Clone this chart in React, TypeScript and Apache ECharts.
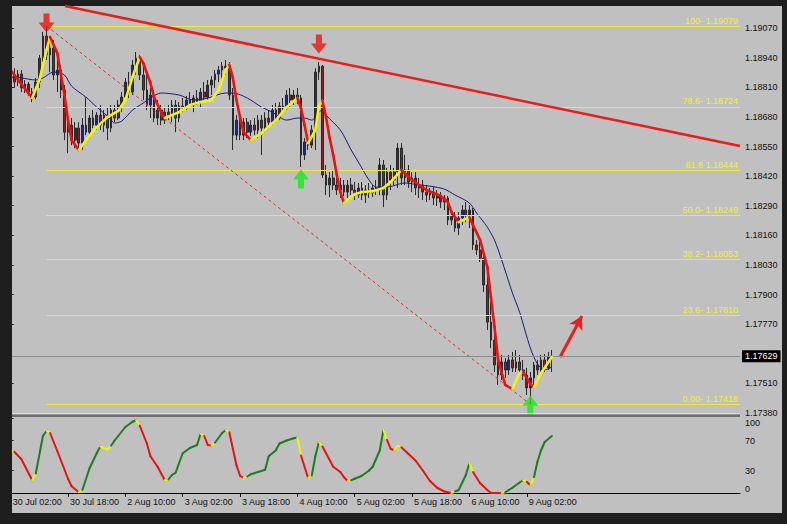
import React, { useEffect, useRef } from "react";
import * as echarts from "echarts";

// [open, high, low, close] for each H1 bar, 30 Jul 02:00 .. 9 Aug 09:00
const ohlc: number[][] = [
  [1.18908, 1.1893, 1.18851, 1.18864], [1.18864, 1.18894, 1.18807, 1.18833], [1.18833, 1.18886, 1.18815, 1.18868],
  [1.18868, 1.18886, 1.18789, 1.18807], [1.18807, 1.18842, 1.18785, 1.18824], [1.18824, 1.18833, 1.18772, 1.18789],
  [1.18789, 1.18807, 1.18745, 1.18767], [1.18767, 1.18851, 1.18758, 1.18833], [1.18833, 1.18952, 1.18807, 1.18938],
  [1.18938, 1.19053, 1.18921, 1.19035], [1.19035, 1.19079, 1.1893, 1.18952], [1.18952, 1.19031, 1.18877, 1.18982],
  [1.18982, 1.19017, 1.18842, 1.18864], [1.18864, 1.1893, 1.18789, 1.18886], [1.18886, 1.18908, 1.18763, 1.18798],
  [1.18798, 1.1882, 1.18578, 1.18613], [1.18613, 1.18688, 1.18521, 1.18644], [1.18644, 1.18675, 1.18556, 1.18578],
  [1.18578, 1.18657, 1.18543, 1.18631], [1.18631, 1.18657, 1.18535, 1.18565], [1.18565, 1.18675, 1.18535, 1.18644],
  [1.18644, 1.18767, 1.186, 1.18613], [1.18613, 1.18688, 1.18587, 1.18675], [1.18675, 1.1871, 1.18631, 1.18644],
  [1.18644, 1.18701, 1.18622, 1.18688], [1.18688, 1.18732, 1.18622, 1.18644], [1.18644, 1.1871, 1.18613, 1.18688],
  [1.18688, 1.18719, 1.18578, 1.18631], [1.18631, 1.18732, 1.18613, 1.1871], [1.1871, 1.18732, 1.18657, 1.18675],
  [1.18675, 1.18754, 1.18666, 1.18732], [1.18732, 1.18789, 1.18701, 1.18767], [1.18767, 1.18851, 1.18754, 1.18833],
  [1.18833, 1.18877, 1.18763, 1.18789], [1.18789, 1.1893, 1.18776, 1.18908], [1.18908, 1.18965, 1.18864, 1.18938],
  [1.18938, 1.18952, 1.18842, 1.18864], [1.18864, 1.18921, 1.18754, 1.18798], [1.18798, 1.18886, 1.1871, 1.18732],
  [1.18732, 1.18807, 1.18675, 1.18776], [1.18776, 1.18798, 1.18657, 1.18675], [1.18675, 1.18754, 1.18644, 1.1871],
  [1.1871, 1.18732, 1.18644, 1.18666], [1.18666, 1.18719, 1.18649, 1.18701], [1.18701, 1.18732, 1.18666, 1.18688],
  [1.18688, 1.18754, 1.18657, 1.18732], [1.18732, 1.18754, 1.18613, 1.18675], [1.18675, 1.18745, 1.18657, 1.18728],
  [1.18728, 1.18763, 1.18701, 1.18719], [1.18719, 1.18772, 1.1871, 1.18754], [1.18754, 1.18789, 1.18719, 1.18732],
  [1.18732, 1.18776, 1.18701, 1.18763], [1.18763, 1.18798, 1.18732, 1.18745], [1.18745, 1.18807, 1.18719, 1.18789],
  [1.18789, 1.18833, 1.18754, 1.18767], [1.18767, 1.18842, 1.18745, 1.1882], [1.1882, 1.18859, 1.18776, 1.18842],
  [1.18842, 1.18886, 1.18807, 1.18868], [1.18868, 1.18903, 1.18833, 1.18886], [1.18886, 1.18921, 1.18842, 1.18903],
  [1.18903, 1.1893, 1.18864, 1.18894], [1.18894, 1.18921, 1.18754, 1.18776], [1.18776, 1.18807, 1.18535, 1.186],
  [1.186, 1.18688, 1.18578, 1.18666], [1.18666, 1.18688, 1.18578, 1.186], [1.186, 1.18675, 1.18578, 1.18657],
  [1.18657, 1.18675, 1.18587, 1.18613], [1.18613, 1.18666, 1.18596, 1.18644], [1.18644, 1.18675, 1.186, 1.18622],
  [1.18622, 1.18688, 1.18587, 1.18666], [1.18666, 1.18688, 1.18513, 1.18631], [1.18631, 1.18701, 1.18613, 1.18675],
  [1.18675, 1.1871, 1.18631, 1.18657], [1.18657, 1.18732, 1.18644, 1.1871], [1.1871, 1.18741, 1.18657, 1.18675],
  [1.18675, 1.18745, 1.18666, 1.18728], [1.18728, 1.18763, 1.18701, 1.18719], [1.18719, 1.18798, 1.1871, 1.18776],
  [1.18776, 1.18807, 1.18719, 1.18754], [1.18754, 1.18798, 1.18732, 1.18776], [1.18776, 1.18807, 1.18736, 1.18763],
  [1.18763, 1.18776, 1.1846, 1.18513], [1.18513, 1.18587, 1.18491, 1.1857], [1.1857, 1.186, 1.18535, 1.18556],
  [1.18556, 1.18644, 1.18543, 1.18622], [1.18622, 1.18894, 1.18535, 1.18877], [1.18877, 1.18921, 1.18842, 1.18903],
  [1.18903, 1.18908, 1.18412, 1.18425], [1.18425, 1.18469, 1.18337, 1.18381], [1.18381, 1.18438, 1.18328, 1.18412],
  [1.18412, 1.18447, 1.18359, 1.18381], [1.18381, 1.18425, 1.18337, 1.18359], [1.18359, 1.18412, 1.18324, 1.18381],
  [1.18381, 1.18403, 1.18333, 1.1835], [1.1835, 1.18403, 1.18324, 1.18381], [1.18381, 1.18412, 1.18337, 1.18359],
  [1.18359, 1.18394, 1.18315, 1.18337], [1.18337, 1.1839, 1.18324, 1.18368], [1.18368, 1.18394, 1.18315, 1.18337],
  [1.18337, 1.18381, 1.18302, 1.18359], [1.18359, 1.1839, 1.18324, 1.18346], [1.18346, 1.18381, 1.18328, 1.18368],
  [1.18368, 1.18403, 1.18337, 1.18359], [1.18359, 1.18499, 1.18337, 1.18469], [1.18469, 1.18491, 1.18284, 1.18337],
  [1.18337, 1.18456, 1.18315, 1.18438], [1.18438, 1.18469, 1.18359, 1.18403], [1.18403, 1.18456, 1.18381, 1.18438],
  [1.18438, 1.18565, 1.18368, 1.18543], [1.18543, 1.18565, 1.18381, 1.18412], [1.18412, 1.18513, 1.18381, 1.18447],
  [1.18447, 1.18469, 1.18368, 1.18394], [1.18394, 1.18438, 1.1835, 1.18412], [1.18412, 1.18438, 1.18337, 1.18368],
  [1.18368, 1.18412, 1.18324, 1.18381], [1.18381, 1.18403, 1.18315, 1.1835], [1.1835, 1.18381, 1.18306, 1.18337],
  [1.18337, 1.18368, 1.18315, 1.1835], [1.1835, 1.18376, 1.18293, 1.18324], [1.18324, 1.18359, 1.18289, 1.18333],
  [1.18333, 1.1835, 1.1828, 1.18306], [1.18306, 1.18337, 1.18271, 1.18324], [1.18324, 1.18333, 1.18205, 1.18227],
  [1.18227, 1.18271, 1.18205, 1.18249], [1.18249, 1.18262, 1.18175, 1.18192], [1.18192, 1.18262, 1.18161, 1.18236],
  [1.18236, 1.18293, 1.18205, 1.18271], [1.18271, 1.18306, 1.18218, 1.18249], [1.18249, 1.18293, 1.18192, 1.18271],
  [1.18271, 1.1828, 1.18096, 1.18118], [1.18118, 1.18139, 1.18074, 1.18096], [1.18096, 1.18131, 1.18043, 1.1806],
  [1.1806, 1.18087, 1.17911, 1.17942], [1.17942, 1.1803, 1.17744, 1.17779], [1.17779, 1.17876, 1.17665, 1.177],
  [1.177, 1.17766, 1.1756, 1.17591], [1.17591, 1.17648, 1.17503, 1.17547], [1.17547, 1.17635, 1.17525, 1.17604],
  [1.17604, 1.17621, 1.17534, 1.17569], [1.17569, 1.17635, 1.17547, 1.17613], [1.17613, 1.17648, 1.1756, 1.17578],
  [1.17578, 1.17657, 1.1756, 1.17604], [1.17604, 1.17635, 1.17547, 1.17569], [1.17569, 1.17613, 1.17525, 1.17547],
  [1.17547, 1.17578, 1.17459, 1.1749], [1.1749, 1.1756, 1.17418, 1.17534], [1.17534, 1.17604, 1.17503, 1.17591],
  [1.17591, 1.17613, 1.17547, 1.17569], [1.17569, 1.17635, 1.17551, 1.17613], [1.17613, 1.17639, 1.1756, 1.17578],
  [1.17578, 1.17648, 1.17569, 1.17626], [1.17626, 1.17657, 1.1756, 1.17629],
];

// smoothed trend line (red falling / yellow rising): [bar index, price]
const hmaPts: number[][] = [
  [0, 1.18886], [3, 1.18824], [6, 1.18763], [8, 1.18842], [10, 1.18973], [11, 1.19031], [13, 1.1896], [15, 1.18776],
  [16, 1.18666], [17, 1.18578], [19, 1.18535], [21, 1.18578], [24, 1.18635], [27, 1.18679], [30, 1.18706], [32, 1.18754],
  [34, 1.18855], [36, 1.18943], [37, 1.18916], [39, 1.18829], [40, 1.18767], [42, 1.18701], [43, 1.18675], [47, 1.18701],
  [50, 1.18732], [53, 1.18745], [56, 1.18754], [58, 1.18798], [60, 1.18886], [61, 1.18908], [62, 1.18851], [63, 1.18754],
  [64, 1.18679], [65, 1.18613], [67, 1.18578], [70, 1.18609], [74, 1.18666], [77, 1.18723], [80, 1.18763], [81, 1.18719],
  [82, 1.18644], [83, 1.18565], [85, 1.18622], [86, 1.18728], [87, 1.1875], [88, 1.18679], [89, 1.18587], [90, 1.18513],
  [91, 1.18425], [92, 1.1835], [93, 1.18302], [94, 1.18315], [96, 1.18341], [98, 1.1835], [101, 1.18354], [104, 1.18368],
  [106, 1.18394], [108, 1.18429], [109, 1.18447], [112, 1.18403], [116, 1.18359], [120, 1.18333], [122, 1.18306],
  [123, 1.18262], [125, 1.18218], [128, 1.1824], [129, 1.18205], [131, 1.18139], [133, 1.18021], [134, 1.17889],
  [135, 1.17758], [136, 1.17613], [138, 1.17503], [140, 1.17485], [142, 1.17555], [143, 1.1756], [145, 1.17507],
  [146, 1.17494], [148, 1.17555], [151, 1.17626],
];

// thin moving average: [bar index, price]
const maPts: number[][] = [
  [0, 1.18855], [3, 1.18851], [7, 1.18842], [9, 1.18851], [12, 1.18877], [15, 1.18864], [17, 1.18815], [21, 1.18767],
  [24, 1.18723], [26, 1.18697], [28, 1.18666], [29, 1.18653], [31, 1.18662], [34, 1.1871], [37, 1.18741], [39, 1.18763],
  [42, 1.18785], [47, 1.18776], [51, 1.18754], [55, 1.18763], [60, 1.18785], [62, 1.18785], [66, 1.18763], [70, 1.18723],
  [73, 1.18701], [77, 1.18666], [80, 1.18675], [82, 1.18675], [84, 1.18666], [86, 1.18701], [87, 1.1871], [88, 1.18688],
  [92, 1.18622], [95, 1.18535], [97, 1.18482], [100, 1.18403], [102, 1.18372], [105, 1.18372], [110, 1.1839],
  [114, 1.18381], [117, 1.18376], [121, 1.18363], [124, 1.18337], [128, 1.18302], [130, 1.18258], [133, 1.18196],
  [135, 1.18139], [137, 1.18052], [140, 1.17907], [142, 1.17823], [145, 1.17665], [147, 1.17595], [149, 1.17569],
  [151, 1.17582],
];

// oscillator (0..100): [bar index, value]
const oscPts: number[][] = [
  [0, 57], [1, 55], [3, 45], [6, 17], [7, 26], [9, 76], [10, 83], [11, 80], [13, 56], [16, 19], [17, 9], [19, 1], [20, 4],
  [22, 33], [24, 53], [25, 62], [27, 58], [28, 63], [29, 70], [32, 88], [34, 95], [35, 97], [36, 90], [38, 66], [39, 49],
  [41, 35], [43, 17], [44, 18], [45, 24], [46, 27], [48, 53], [50, 60], [52, 64], [53, 79], [54, 76], [55, 64], [56, 63],
  [57, 67], [59, 80], [60, 84], [61, 81], [62, 59], [63, 37], [64, 23], [65, 20], [66, 22], [67, 25], [69, 28], [71, 31],
  [72, 49], [74, 57], [75, 66], [77, 70], [79, 73], [80, 74], [81, 50], [83, 20], [84, 23], [85, 49], [86, 68], [87, 62],
  [88, 53], [90, 35], [92, 28], [93, 21], [94, 16], [95, 17], [96, 19], [98, 23], [100, 30], [101, 35], [103, 57],
  [104, 84], [105, 71], [106, 59], [107, 57], [108, 63], [109, 61], [111, 52], [113, 43], [115, 30], [117, 16], [119, 7],
  [121, 2], [123, 0], [124, 2], [125, 4], [127, 24], [128, 40], [129, 28], [131, 13], [133, 4], [134, 0], [137, 0],
  [138, 1], [140, 7], [142, 14], [143, 17], [144, 15], [145, 10], [146, 21], [147, 42], [148, 57], [149, 68], [151, 76],
];

const priceTicks = [1.1738, 1.1751, 1.1777, 1.179, 1.1803, 1.1816, 1.1829, 1.1842, 1.1855, 1.1868, 1.1881, 1.1894, 1.1907];
const oscTicks = [0, 30, 70, 100];
const timeTickIdx = [0, 16, 32, 48, 64, 80, 96, 112, 128, 144];
const timeTickLabels = [
  "30 Jul 02:00", "30 Jul 18:00", "2 Aug 10:00", "3 Aug 02:00", "3 Aug 18:00",
  "4 Aug 10:00", "5 Aug 02:00", "5 Aug 18:00", "6 Aug 10:00", "9 Aug 02:00",
];

const fibPrices = [1.19079, 1.18724, 1.18444, 1.18249, 1.18053, 1.1781, 1.17418];
const fibLabels = ["100- 1.19079", "78.6- 1.18724", "61.8 1.18444", "50.0- 1.18249", "38.2- 1.18053", "23.6- 1.17810", "0.00- 1.17418"];
const fibStartIdx = 10;
const fibDiagonal = [[10, 1.19079], [145, 1.17418]];
const trendLine = [[15.15, 1.19167], [203.5, 1.18552]];
const projectionArrow = [[153.3, 1.17626], [159.4, 1.17806]];
const lastPrice = 1.17629;

// signal arrows: bar index, anchor price, direction
const signalArrows = [
  { i: 10, price: 1.19079, dir: "down" },
  { i: 86, price: 1.18921, dir: "down" },
  { i: 81, price: 1.1846, dir: "up" },
  { i: 145, price: 1.17418, dir: "up" },
];
const arrowOffsets = [-3, -18, 12, 1];

const SLOTS = 204;
const X_MIN = -0.5;
const X_MAX = SLOTS - 0.5;

const DOWN_ARROW = "path://M5,0L11,0L11,9L16,9L8,19L0,9L5,9Z";
const UP_ARROW = "path://M8,0L16,10L11,10L11,19L5,19L5,10L0,10Z";

const FONT = "Liberation Sans";

function segSeries(pts: number[][], colorAt: (k: number) => string, width: number, axisIdx: number, z: number) {
  return {
    type: "custom",
    xAxisIndex: axisIdx,
    yAxisIndex: axisIdx,
    z,
    silent: true,
    data: pts,
    encode: { x: 0, y: 1 },
    renderItem: (params: any, api: any) => {
      const k = params.dataIndex;
      if (k >= pts.length - 1) return { type: "group", children: [] };
      const a = api.coord(pts[k]);
      const b = api.coord(pts[k + 1]);
      return {
        type: "line",
        shape: { x1: a[0], y1: a[1], x2: b[0], y2: b[1] },
        style: { stroke: colorAt(k), lineWidth: width, lineCap: "round" },
      };
    },
  };
}

function buildOption() {
  const rising = (pts: number[][], k: number) => pts[k + 1][1] > pts[k][1];
  const hmaColor = (k: number) => (rising(hmaPts, k) ? "#f4f40a" : "#ee1111");
  const oscColor = (k: number) => {
    const r = rising(oscPts, k);
    if (k === 0 || r !== rising(oscPts, k - 1)) return "#f2f20c";
    return r ? "#1e7d1e" : "#e41414";
  };

  const markData: any[] = [];
  fibPrices.forEach((p, k) => {
    markData.push([
      {
        coord: [fibStartIdx, p],
        lineStyle: { color: "#ecec3a", width: 1, type: "solid" },
        label: {
          show: true, position: "insideEndTop", formatter: fibLabels[k], color: "#f0f038",
          fontSize: 9, fontFamily: FONT, distance: [2, 1],
        },
      },
      { coord: [X_MAX, p] },
    ]);
  });
  markData.push([
    { coord: trendLine[0], lineStyle: { color: "#ea1c1c", width: 2.5, type: "solid" } },
    { coord: trendLine[1] },
  ]);
  markData.push([
    { coord: fibDiagonal[0], lineStyle: { color: "#e02a2a", width: 1, type: [3, 3] } },
    { coord: fibDiagonal[1] },
  ]);
  markData.push([
    { coord: projectionArrow[0], symbol: "none", lineStyle: { color: "#ee1c1c", width: 3, type: "solid" } },
    { coord: projectionArrow[1], symbol: "arrow", symbolSize: [11, 13] },
  ]);
  markData.push([
    {
      coord: [X_MIN, lastPrice],
      lineStyle: { color: "#8c8c8c", width: 1, type: "solid" },
      label: {
        show: true, position: "end", formatter: lastPrice.toFixed(5), backgroundColor: "#000", color: "#fff",
        padding: [2, 3, 1, 3], fontSize: 9, fontFamily: FONT, distance: 2,
      },
    },
    { coord: [X_MAX, lastPrice] },
  ]);

  return {
    animation: false,
    backgroundColor: "#1e1e1e",
    textStyle: { fontFamily: FONT },
    graphic: [
      { type: "rect", z: -100, shape: { x: 12, y: 6, width: 770, height: 507 }, style: { fill: "#c0c0c0" } },
      { type: "rect", z: 50, shape: { x: 12, y: 413, width: 728, height: 1 }, style: { fill: "#dcdcdc" } },
      { type: "rect", z: 50, shape: { x: 12, y: 414.5, width: 728, height: 2.5 }, style: { fill: "#6e6e6e" } },
      { type: "rect", z: 100, shape: { x: 0, y: 0, width: 12, height: 524 }, style: { fill: "#1e1e1e" } },
    ],
    grid: [
      { left: 8.9, right: 47, top: 6, bottom: 111 },
      { left: 8.9, right: 47, top: 418, bottom: 31 },
    ],
    xAxis: [
      { type: "value", gridIndex: 0, min: X_MIN, max: X_MAX, show: false },
      {
        type: "value", gridIndex: 1, min: X_MIN, max: X_MAX,
        axisLine: { show: true, onZero: false, lineStyle: { color: "#000", width: 1 } },
        axisTick: { show: true, customValues: timeTickIdx, length: 4, lineStyle: { color: "#000" } },
        axisLabel: {
          customValues: timeTickIdx,
          formatter: (v: number) => timeTickLabels[timeTickIdx.indexOf(Math.round(v))] ?? "",
          align: "left", margin: 4, padding: [0, 0, 0, 2], fontSize: 9, color: "#111", fontFamily: FONT,
        },
        splitLine: { show: false },
      },
    ],
    yAxis: [
      {
        type: "value", gridIndex: 0, position: "right", min: 1.1738, max: 1.19167,
        axisLine: { show: true, lineStyle: { color: "#000", width: 1 } },
        axisTick: { show: true, customValues: priceTicks, length: 3, lineStyle: { color: "#000" } },
        axisLabel: {
          customValues: priceTicks, formatter: (v: number) => v.toFixed(5), margin: 5,
          fontSize: 9, color: "#111", fontFamily: FONT,
        },
        splitLine: { show: false },
      },
      {
        type: "value", gridIndex: 1, position: "right", min: 0, max: 100,
        axisLine: { show: true, lineStyle: { color: "#000", width: 1 } },
        axisTick: { show: true, customValues: oscTicks, length: 3, lineStyle: { color: "#000" } },
        axisLabel: {
          customValues: oscTicks, margin: 5, fontSize: 9, color: "#111", fontFamily: FONT,
          showMinLabel: true, showMaxLabel: true, hideOverlap: false,
          verticalAlignMinLabel: "bottom", verticalAlignMaxLabel: "top",
        },
        splitLine: { show: false },
      },
    ],
    series: [
      {
        type: "candlestick", xAxisIndex: 0, yAxisIndex: 0, z: 2,
        data: ohlc.map((d, i) => [i, d[0], d[3], d[2], d[1]]),
        encode: { x: 0, y: [1, 2, 3, 4] },
        barWidth: 2.2,
        itemStyle: {
          color: "#1e2b8e", color0: "#8e2020", borderColor: "#2a2a2a", borderColor0: "#2a2a2a", borderWidth: 1,
        },
        markLine: { silent: true, animation: false, symbol: ["none", "none"], label: { show: false }, data: markData },
      },
      {
        type: "line", xAxisIndex: 0, yAxisIndex: 0, z: 4, data: maPts, showSymbol: false, symbol: "none",
        smooth: 0.3, lineStyle: { color: "#1c1c78", width: 1 }, silent: true,
      },
      segSeries(hmaPts, hmaColor, 2.6, 0, 5),
      {
        type: "scatter", xAxisIndex: 0, yAxisIndex: 0, z: 6, silent: true,
        data: signalArrows.map((a, k) => ({
          value: [a.i, a.price],
          symbol: a.dir === "down" ? DOWN_ARROW : UP_ARROW,
          symbolSize: [16, 19],
          symbolOffset: [0, arrowOffsets[k]],
          itemStyle: { color: a.dir === "down" ? "#ee1111" : "#18e818" },
        })),
      },
      segSeries(oscPts, oscColor, 2, 1, 5),
    ],
  };
}

export default function App() {
  const ref = useRef<HTMLDivElement>(null);
  useEffect(() => {
    if (!ref.current) return;
    const chart = echarts.init(ref.current, null, { renderer: "svg" });
    chart.setOption(buildOption() as any);
    return () => chart.dispose();
  }, []);
  return <div ref={ref} style={{ position: "fixed", left: 0, top: 0, width: 787, height: 524 }} />;
}
